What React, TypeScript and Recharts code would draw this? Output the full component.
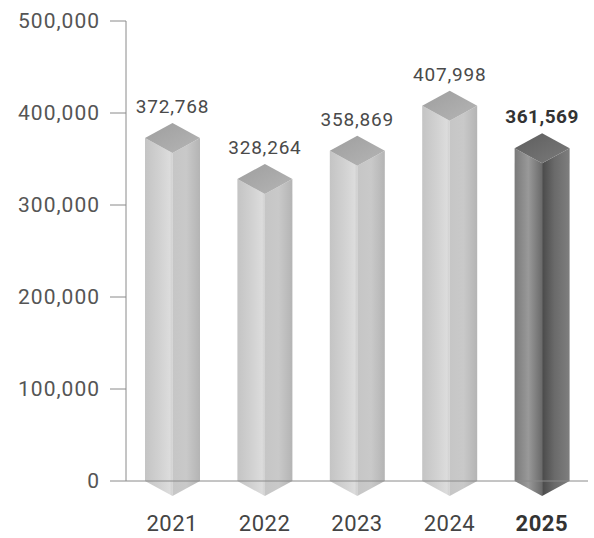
import React from 'react';
import { BarChart, Bar, XAxis, YAxis, LabelList } from 'recharts';

const years = ['2021', '2022', '2023', '2024', '2025'];
const totals = [372768, 328264, 358869, 407998, 361569];
const yTicks = [0, 100000, 200000, 300000, 400000, 500000];
const highlightYear = '2025';

const data = years.map((year, i) => ({ year, total: totals[i] }));

const DEPTH = 15;
const FONT = 'Roboto, "Open Sans", sans-serif';

const fmt = (v: number) => v.toLocaleString('en-US');

function Pillar(props: any) {
  const { x, y, width, height, payload } = props;
  if (height == null || width == null) return null;
  const dark = payload && payload.year === highlightYear;
  const cx = x + width / 2;
  const bottom = y + height;
  const d = DEPTH;
  const left = `${x},${y} ${cx},${y + d} ${cx},${bottom + d} ${x},${bottom}`;
  const right = `${cx},${y + d} ${x + width},${y} ${x + width},${bottom} ${cx},${bottom + d}`;
  const top = `${x},${y} ${cx},${y - d} ${x + width},${y} ${cx},${y + d}`;
  const k = dark ? 'dk' : 'lt';
  return (
    <g>
      <polygon points={left} fill={`url(#${k}Left)`} />
      <polygon points={right} fill={`url(#${k}Right)`} />
      <polygon points={top} fill={`url(#${k}Top)`} />
    </g>
  );
}

function ValueLabel(props: any) {
  const { x, y, width, value, index } = props;
  const bold = years[index] === highlightYear;
  return (
    <text
      x={x + width / 2}
      y={y - DEPTH - 10}
      textAnchor="middle"
      fontFamily={FONT}
      fontSize={19}
      fontWeight={bold ? 700 : 400}
      letterSpacing={bold ? 0.5 : 0.8}
      fill={bold ? '#333' : '#4a4a4a'}
    >
      {fmt(value)}
    </text>
  );
}

function YearTick(props: any) {
  const { x, y, payload } = props;
  const bold = payload.value === highlightYear;
  return (
    <text
      x={x}
      y={y}
      dy={16}
      textAnchor="middle"
      fontFamily={FONT}
      fontSize={22}
      fontWeight={bold ? 700 : 400}
      letterSpacing={0.5}
      fill={bold ? '#333' : '#444'}
    >
      {payload.value}
    </text>
  );
}

export default function App() {
  return (
    <div style={{ position: 'absolute', left: 0, top: 0, background: '#fff' }}>
      <BarChart
        width={594}
        height={538}
        data={data}
        margin={{ top: 21, right: 6, bottom: 0, left: 0 }}
        barCategoryGap={0}
      >
        <defs>
          <linearGradient id="ltLeft" x1="0" y1="0" x2="1" y2="0">
            <stop offset="0%" stopColor="#c4c4c4" />
            <stop offset="55%" stopColor="#d2d2d2" />
            <stop offset="90%" stopColor="#dcdcdc" />
            <stop offset="100%" stopColor="#cfcfcf" />
          </linearGradient>
          <linearGradient id="ltRight" x1="0" y1="0" x2="1" y2="0">
            <stop offset="0%" stopColor="#c6c6c6" />
            <stop offset="50%" stopColor="#c9c9c9" />
            <stop offset="100%" stopColor="#b4b4b4" />
          </linearGradient>
          <linearGradient id="ltTop" x1="0" y1="0" x2="1" y2="1">
            <stop offset="0%" stopColor="#9e9e9e" />
            <stop offset="100%" stopColor="#b5b5b5" />
          </linearGradient>
          <linearGradient id="dkLeft" x1="0" y1="0" x2="1" y2="0">
            <stop offset="0%" stopColor="#7a7a7a" />
            <stop offset="50%" stopColor="#999999" />
            <stop offset="100%" stopColor="#6a6a6a" />
          </linearGradient>
          <linearGradient id="dkRight" x1="0" y1="0" x2="1" y2="0">
            <stop offset="0%" stopColor="#4a4a4a" />
            <stop offset="45%" stopColor="#6a6a6a" />
            <stop offset="100%" stopColor="#7e7e7e" />
          </linearGradient>
          <linearGradient id="dkTop" x1="0" y1="0" x2="1" y2="1">
            <stop offset="0%" stopColor="#5e5e5e" />
            <stop offset="100%" stopColor="#7a7a7a" />
          </linearGradient>
        </defs>
        <XAxis
          dataKey="year"
          height={57}
          tickLine={false}
          tickSize={0}
          tickMargin={34}
          axisLine={{ stroke: '#8a8a8a', strokeWidth: 1 }}
          tick={<YearTick />}
          interval={0}
        />
        <YAxis
          width={126}
          domain={[0, 500000]}
          ticks={yTicks}
          tickFormatter={fmt}
          tickSize={16}
          tickMargin={10}
          axisLine={{ stroke: '#8a8a8a', strokeWidth: 1 }}
          tickLine={{ stroke: '#8a8a8a', strokeWidth: 1 }}
          tick={{ fill: '#555', fontSize: 21, fontFamily: FONT, letterSpacing: 1 }}
          interval={0}
        />
        <Bar dataKey="total" barSize={55} shape={<Pillar />} isAnimationActive={false}>
          <LabelList dataKey="total" content={<ValueLabel />} />
        </Bar>
      </BarChart>
    </div>
  );
}
